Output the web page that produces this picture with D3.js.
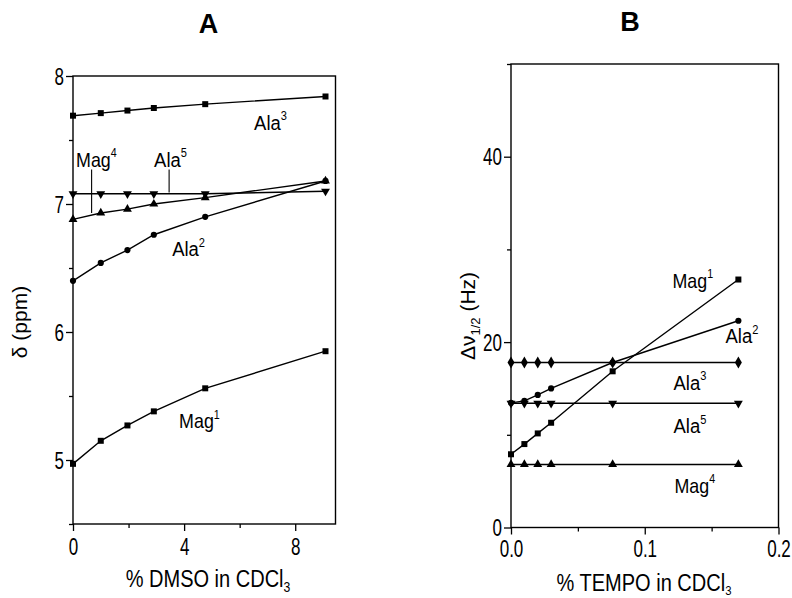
<!DOCTYPE html>
<html><head><meta charset="utf-8">
<script src="https://cdn.jsdelivr.net/npm/d3@7"></script>
<style>
body{margin:0;background:#fff}
svg text{font-family:"Liberation Sans",Arial,Helvetica,sans-serif;fill:#000}
</style></head>
<body><svg id="c" width="792" height="598"></svg>
<script>
// ---------- Panel A data ----------
const dmso  = [0, 1, 1.96, 2.91, 4.76, 9.09];
const mag1A = [4.97, 5.15, 5.27, 5.38, 5.56, 5.85];
const ala2A = [6.40, 6.54, 6.64, 6.76, 6.90, 7.18];
const ala3A = [7.69, 7.71, 7.73, 7.75, 7.78, 7.84];
const mag4A = [6.88, 6.93, 6.96, 7.00, 7.05, 7.18];
const ala5A = [7.08, 7.08, 7.08, 7.08, 7.08, 7.10];
const ticksAx = [0, 4, 8], minorAx = [2, 6];
const ticksAy = [5, 6, 7, 8], minorAy = [4.5, 5.5, 6.5, 7.5];
// ---------- Panel B data ----------
const tempo = [0, 0.01, 0.02, 0.03, 0.076, 0.17];
const mag1B = [7.9, 9.0, 10.15, 11.3, 16.85, 26.75];
const ala2B = [13.45, 13.66, 14.3, 15.0, 17.8, 22.3];
const ala3B = [17.8, 17.8, 17.8, 17.8, 17.8, 17.8];
const ala5B = [13.4, 13.4, 13.4, 13.4, 13.4, 13.4];
const mag4B = [6.8, 6.8, 6.8, 6.8, 6.8, 6.8];
const ticksBx = [0, 0.1, 0.2], minorBx = [0.05, 0.15];
const ticksBy = [0, 20, 40], minorBy = [10, 30, 50];

const svg = d3.select("#c");

function condense(sel, sx) {
  sel.each(function () {
    const t = d3.select(this);
    const x = +t.attr("x") || 0, y = +t.attr("y") || 0;
    t.attr("x", 0).attr("y", 0).attr("dy", null)
     .attr("transform", `translate(${x},${y}) scale(${sx},1)`);
  });
}
function label(g, x, y, main, sup, size, sx) {
  const t = g.append("text").attr("font-size", size)
    .attr("transform", `translate(${x},${y}) scale(${sx},1)`);
  t.append("tspan").text(main);
  if (sup) t.append("tspan").attr("font-size", size * 0.6).attr("dy", -size * 0.45).text(sup);
  return t;
}
const sym = {
  square: d3.symbol().type(d3.symbolSquare).size(36)(),
  circle: d3.symbol().type(d3.symbolCircle).size(30)(),
  up: d3.symbol().type(d3.symbolTriangle).size(34)(),
  diamond: d3.symbol().type(d3.symbolDiamond).size(42)()
};
function series(g, xs, ys, xv, yv, shape) {
  const pts = xv.map((d, i) => [xs(d), ys(yv[i])]);
  g.append("path").attr("d", d3.line()(pts)).attr("fill", "none")
    .attr("stroke", "#000").attr("stroke-width", 1.4);
  g.selectAll(null).data(pts).enter().append("path")
    .attr("d", shape === "down" ? sym.up : sym[shape])
    .attr("transform", d => `translate(${d[0]},${d[1]})` + (shape === "down" ? " rotate(180)" : ""))
    .attr("fill", "#000");
}
function frame(g, xs, ys, tx, mx, ty, my, fmtX, fmtY, labY) {
  const [x0, x1] = xs.range(), [y0, y1] = ys.range();
  g.append("rect").attr("x", x0).attr("y", y1).attr("width", x1 - x0).attr("height", y0 - y1)
    .attr("fill", "none").attr("stroke", "#000").attr("stroke-width", 1.4);
  const ax = g.append("g").attr("transform", `translate(0,${y0})`)
    .call(d3.axisBottom(xs).tickValues(tx).tickFormat(fmtX).tickSize(7).tickSizeOuter(0));
  g.append("g").attr("transform", `translate(0,${y0})`)
    .call(d3.axisBottom(xs).tickValues(mx).tickFormat("").tickSize(4).tickSizeOuter(0));
  const ay = g.append("g").attr("transform", `translate(${x0},0)`)
    .call(d3.axisLeft(ys).tickValues(ty).tickFormat(fmtY).tickSize(7).tickSizeOuter(0));
  g.append("g").attr("transform", `translate(${x0},0)`)
    .call(d3.axisLeft(ys).tickValues(my).tickFormat("").tickSize(4).tickSizeOuter(0));
  g.selectAll(".domain").remove();
  g.selectAll(".tick line").attr("stroke", "#000").attr("stroke-width", 1.3);
  ax.selectAll("text").attr("font-size", 23).attr("y", labY).attr("font-family", null);
  condense(ax.selectAll("text"), 0.74);
  ay.selectAll("text").attr("font-size", 23).attr("x", -9).attr("y", 8).attr("font-family", null);
  condense(ay.selectAll("text"), 0.74);
}

// ================= Panel A =================
const gA = svg.append("g");
const xA = d3.scaleLinear().domain([0, 9.45]).range([73, 335.5]);
const yA = d3.scaleLinear().domain([4.5, 8]).range([524, 76]);
frame(gA, xA, yA, ticksAx, minorAx, ticksAy, minorAy, d3.format("d"), d3.format("d"), 31);
series(gA, xA, yA, dmso, ala3A, "square");
series(gA, xA, yA, dmso, ala5A, "down");
series(gA, xA, yA, dmso, mag4A, "up");
series(gA, xA, yA, dmso, ala2A, "circle");
series(gA, xA, yA, dmso, mag1A, "square");
// leader lines
gA.append("line").attr("x1", xA(0.67)).attr("x2", xA(0.67)).attr("y1", yA(7.27)).attr("y2", yA(6.93))
  .attr("stroke", "#000").attr("stroke-width", 1.1);
gA.append("line").attr("x1", xA(3.46)).attr("x2", xA(3.46)).attr("y1", yA(7.27)).attr("y2", yA(7.09))
  .attr("stroke", "#000").attr("stroke-width", 1.1);
label(gA, xA(6.52), yA(7.58), "Ala", "3", 21, 0.88);
label(gA, xA(0.11), yA(7.29), "Mag", "4", 21, 0.85);
label(gA, xA(2.92), yA(7.29), "Ala", "5", 21, 0.88);
label(gA, xA(3.57), yA(6.59), "Ala", "2", 21, 0.88);
label(gA, xA(3.82), yA(5.25), "Mag", "1", 21, 0.85);
// titles
gA.append("text").attr("x", 208.5).attr("y", 33).attr("text-anchor", "middle")
  .attr("font-size", 27).attr("font-weight", "bold").text("A");
{
  const t = gA.append("text").attr("font-size", 23).attr("text-anchor", "middle")
    .attr("transform", "translate(208,587) scale(0.87,1)");
  t.append("tspan").text("% DMSO in CDCl");
  t.append("tspan").attr("font-size", 14).attr("dy", 5).text("3");
}
gA.append("text").attr("font-size", 21).attr("text-anchor", "middle")
  .attr("transform", "translate(27,322) rotate(-90)").text("δ (ppm)");

// ================= Panel B =================
const gB = svg.append("g");
const xB = d3.scaleLinear().domain([0, 0.2]).range([511, 778.5]);
const yB = d3.scaleLinear().domain([0, 50]).range([527.5, 64]);
frame(gB, xB, yB, ticksBx, minorBx, ticksBy, minorBy, d3.format(".1f"), d3.format("d"), 29);
series(gB, xB, yB, tempo, ala3B, "diamond");
series(gB, xB, yB, tempo, ala5B, "down");
series(gB, xB, yB, tempo, mag4B, "up");
series(gB, xB, yB, tempo, ala2B, "circle");
series(gB, xB, yB, tempo, mag1B, "square");
label(gB, xB(0.1207), yB(25.86), "Mag", "1", 21, 0.85);
label(gB, xB(0.1604), yB(19.9), "Ala", "2", 21, 0.88);
label(gB, xB(0.1215), yB(14.85), "Ala", "3", 21, 0.88);
label(gB, xB(0.1215), yB(10.2), "Ala", "5", 21, 0.88);
label(gB, xB(0.1222), yB(3.77), "Mag", "4", 21, 0.85);
gB.append("text").attr("x", 630).attr("y", 31).attr("text-anchor", "middle")
  .attr("font-size", 27).attr("font-weight", "bold").text("B");
{
  const t = gB.append("text").attr("font-size", 23).attr("text-anchor", "middle")
    .attr("transform", "translate(644,591) scale(0.87,1)");
  t.append("tspan").text("% TEMPO in CDCl");
  t.append("tspan").attr("font-size", 13).attr("dy", 4).text("3");
}
{
  const t = gB.append("text").attr("font-size", 21).attr("text-anchor", "middle")
    .attr("transform", "translate(475,316) rotate(-90)");
  t.append("tspan").text("Δν");
  t.append("tspan").attr("font-size", 13).attr("dy", 5).text("1/2");
  t.append("tspan").attr("dy", -5).text(" (Hz)");
}
</script></body></html>
